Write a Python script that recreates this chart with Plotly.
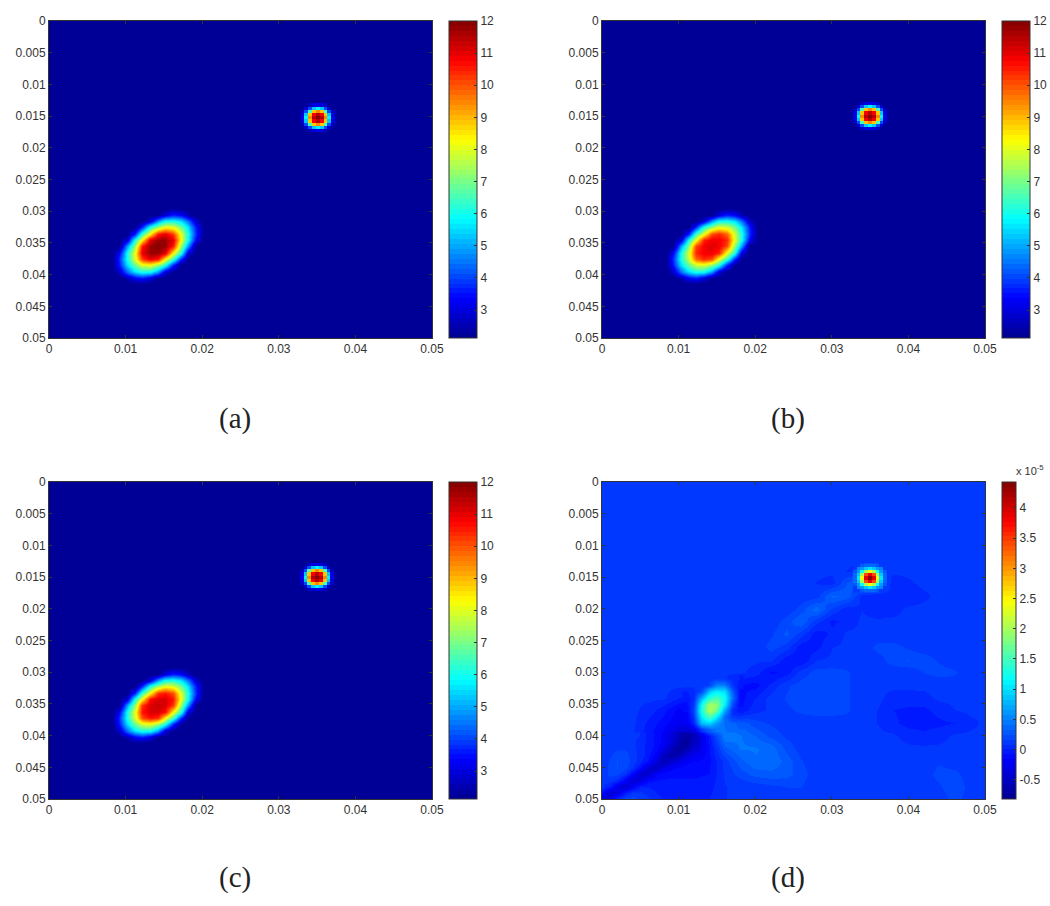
import plotly.graph_objects as go

W, H = 1050, 906
INK = '#333333'

# tick labels
x_ticks = [0, 0.01, 0.02, 0.03, 0.04, 0.05]
x_labels = ['0', '0.01', '0.02', '0.03', '0.04', '0.05']
y_ticks = [0, 0.005, 0.01, 0.015, 0.02, 0.025, 0.03, 0.035, 0.04, 0.045, 0.05]
y_labels = ['0', '0.005', '0.01', '0.015', '0.02', '0.025', '0.03', '0.035', '0.04', '0.045', '0.05']
cbar_ticks = [3, 4, 5, 6, 7, 8, 9, 10, 11, 12]
cbar_ticks_d = [-0.5, 0, 0.5, 1, 1.5, 2, 2.5, 3, 3.5, 4]
cbar_labels_d = ['-0.5', '0', '0.5', '1', '1.5', '2', '2.5', '3', '3.5', '4']
captions = ['(a)', '(b)', '(c)', '(d)']

# colour limits
z_min, z_max = 2.13, 12
z_min_d, z_max_d = -0.82, 4.43

edges = [0, 0.05]
floor_abc = [[2.1, 2.1], [2.1, 2.1]]

# large tilted blob, panels a-c
blob_dy = [0.0295, 0.0305, 0.0315, 0.0325, 0.0335, 0.0345, 0.0355,
           0.0365, 0.0375, 0.0385, 0.0395, 0.0405, 0.0415]
blob_x_a = [0.0082, 0.0092, 0.0102, 0.0112, 0.0122, 0.0132, 0.0142,
            0.0152, 0.0162, 0.0172, 0.0182, 0.0192, 0.0202]
blob_x_b = [0.0083, 0.0093, 0.0103, 0.0113, 0.0123, 0.0133, 0.0143,
            0.0153, 0.0163, 0.0173, 0.0183, 0.0193, 0.0203]
blob_y_c = [0.0292, 0.0302, 0.0312, 0.0322, 0.0332, 0.0342, 0.0352,
            0.0362, 0.0372, 0.0382, 0.0392, 0.0402, 0.0412]
blob_a = [
    [2.1, 2.1, 2.1, 2.1, 2.1, 2.1, 2.1, 2.1, 2.1, 2.1, 2.1, 2.1, 2.1],
    [2.1, 2.1, 2.1, 2.1, 2.1, 2.1, 2.1, 3.0, 3.6, 3.3, 2.5, 2.1, 2.1],
    [2.1, 2.1, 2.1, 2.1, 2.1, 2.9, 4.8, 5.9, 6.0, 5.5, 4.4, 2.7, 2.1],
    [2.1, 2.1, 2.1, 2.1, 3.7, 6.1, 7.3, 8.2, 8.0, 6.9, 5.5, 3.5, 2.1],
    [2.1, 2.1, 2.1, 3.7, 6.4, 8.4, 10.6, 11.0, 10.2, 8.0, 6.0, 3.7, 2.1],
    [2.1, 2.1, 2.9, 6.1, 8.4, 11.1, 11.7, 11.7, 11.0, 8.2, 5.9, 3.2, 2.1],
    [2.1, 2.1, 4.8, 7.3, 10.6, 11.7, 12.0, 11.7, 10.6, 7.3, 4.8, 2.1, 2.1],
    [2.1, 3.2, 5.9, 8.2, 11.0, 11.7, 11.7, 11.1, 8.4, 6.1, 2.9, 2.1, 2.1],
    [2.1, 3.7, 6.0, 8.0, 10.2, 11.0, 10.6, 8.4, 6.4, 3.7, 2.1, 2.1, 2.1],
    [2.1, 3.5, 5.5, 6.9, 8.0, 8.2, 7.3, 6.1, 3.7, 2.1, 2.1, 2.1, 2.1],
    [2.1, 2.7, 4.4, 5.5, 6.0, 5.9, 4.8, 2.9, 2.1, 2.1, 2.1, 2.1, 2.1],
    [2.1, 2.1, 2.5, 3.3, 3.6, 3.0, 2.1, 2.1, 2.1, 2.1, 2.1, 2.1, 2.1],
    [2.1, 2.1, 2.1, 2.1, 2.1, 2.1, 2.1, 2.1, 2.1, 2.1, 2.1, 2.1, 2.1],
]
blob_b = [
    [2.1, 2.1, 2.1, 2.1, 2.1, 2.1, 2.1, 2.1, 2.1, 2.1, 2.1, 2.1, 2.1],
    [2.1, 2.1, 2.1, 2.1, 2.1, 2.1, 2.1, 3.0, 3.6, 3.3, 2.5, 2.1, 2.1],
    [2.1, 2.1, 2.1, 2.1, 2.1, 2.9, 4.8, 5.9, 6.0, 5.5, 4.4, 2.7, 2.1],
    [2.1, 2.1, 2.1, 2.1, 3.7, 6.1, 7.2, 8.0, 7.8, 6.9, 5.5, 3.5, 2.1],
    [2.1, 2.1, 2.1, 3.7, 6.4, 8.1, 10.1, 10.4, 9.8, 7.8, 6.0, 3.7, 2.1],
    [2.1, 2.1, 2.9, 6.1, 8.1, 10.5, 10.9, 10.9, 10.4, 8.0, 5.9, 3.2, 2.1],
    [2.1, 2.1, 4.8, 7.2, 10.1, 10.9, 11.0, 10.9, 10.1, 7.2, 4.8, 2.1, 2.1],
    [2.1, 3.2, 5.9, 8.0, 10.4, 10.9, 10.9, 10.5, 8.1, 6.1, 2.9, 2.1, 2.1],
    [2.1, 3.7, 6.0, 7.8, 9.8, 10.4, 10.1, 8.1, 6.4, 3.7, 2.1, 2.1, 2.1],
    [2.1, 3.5, 5.5, 6.9, 7.8, 8.0, 7.2, 6.1, 3.7, 2.1, 2.1, 2.1, 2.1],
    [2.1, 2.7, 4.4, 5.5, 6.0, 5.9, 4.8, 2.9, 2.1, 2.1, 2.1, 2.1, 2.1],
    [2.1, 2.1, 2.5, 3.3, 3.6, 3.0, 2.1, 2.1, 2.1, 2.1, 2.1, 2.1, 2.1],
    [2.1, 2.1, 2.1, 2.1, 2.1, 2.1, 2.1, 2.1, 2.1, 2.1, 2.1, 2.1, 2.1],
]
blob_c = [
    [2.1, 2.1, 2.1, 2.1, 2.1, 2.1, 2.1, 2.1, 2.1, 2.1, 2.1, 2.1, 2.1],
    [2.1, 2.1, 2.1, 2.1, 2.1, 2.1, 2.1, 3.0, 3.6, 3.3, 2.5, 2.1, 2.1],
    [2.1, 2.1, 2.1, 2.1, 2.1, 2.9, 4.8, 5.9, 6.0, 5.5, 4.4, 2.7, 2.1],
    [2.1, 2.1, 2.1, 2.1, 3.7, 6.1, 7.3, 8.1, 7.9, 6.9, 5.5, 3.5, 2.1],
    [2.1, 2.1, 2.1, 3.7, 6.4, 8.3, 10.3, 10.6, 10.0, 7.9, 6.0, 3.7, 2.1],
    [2.1, 2.1, 2.9, 6.1, 8.3, 10.7, 11.1, 11.1, 10.6, 8.1, 5.9, 3.2, 2.1],
    [2.1, 2.1, 4.8, 7.3, 10.3, 11.1, 11.3, 11.1, 10.3, 7.3, 4.8, 2.1, 2.1],
    [2.1, 3.2, 5.9, 8.1, 10.6, 11.1, 11.1, 10.7, 8.3, 6.1, 2.9, 2.1, 2.1],
    [2.1, 3.7, 6.0, 7.9, 10.0, 10.6, 10.3, 8.3, 6.4, 3.7, 2.1, 2.1, 2.1],
    [2.1, 3.5, 5.5, 6.9, 7.9, 8.1, 7.3, 6.1, 3.7, 2.1, 2.1, 2.1, 2.1],
    [2.1, 2.7, 4.4, 5.5, 6.0, 5.9, 4.8, 2.9, 2.1, 2.1, 2.1, 2.1, 2.1],
    [2.1, 2.1, 2.5, 3.3, 3.6, 3.0, 2.1, 2.1, 2.1, 2.1, 2.1, 2.1, 2.1],
    [2.1, 2.1, 2.1, 2.1, 2.1, 2.1, 2.1, 2.1, 2.1, 2.1, 2.1, 2.1, 2.1],
]

# small round peak, panels a-c
peak_x_a = [0.0326, 0.0331, 0.0336, 0.0341, 0.0346, 0.0351, 0.0356, 0.0361, 0.0366, 0.0371, 0.0376]
peak_y_a = [0.01275, 0.01325, 0.01375, 0.01425, 0.01475, 0.01525, 0.01575, 0.01625, 0.01675, 0.01725, 0.01775]
peak_x_bc = [0.0325, 0.0330, 0.0335, 0.0340, 0.0345, 0.0350, 0.0355, 0.0360, 0.0365, 0.0370, 0.0375]
peak_y_bc = [0.0125, 0.0130, 0.0135, 0.0140, 0.0145, 0.0150, 0.0155, 0.0160, 0.0165, 0.0170, 0.0175]
peak_abc = [
    [2.1, 2.1, 2.1, 2.1, 2.15, 2.2, 2.15, 2.1, 2.1, 2.1, 2.1],
    [2.1, 2.1, 2.2, 2.6, 3.0, 3.2, 3.0, 2.6, 2.2, 2.1, 2.1],
    [2.1, 2.2, 2.8, 4.0, 5.3, 5.8, 5.3, 4.0, 2.8, 2.2, 2.1],
    [2.15, 2.6, 4.0, 6.5, 8.8, 9.5, 8.8, 6.5, 4.0, 2.6, 2.15],
    [2.15, 3.0, 5.3, 8.8, 10.8, 11.5, 10.8, 8.8, 5.3, 3.0, 2.15],
    [2.2, 3.2, 5.8, 9.5, 11.5, 12.0, 11.5, 9.5, 5.8, 3.2, 2.2],
    [2.15, 3.0, 5.3, 8.8, 10.8, 11.5, 10.8, 8.8, 5.3, 3.0, 2.15],
    [2.15, 2.6, 4.0, 6.5, 8.8, 9.5, 8.8, 6.5, 4.0, 2.6, 2.15],
    [2.1, 2.2, 2.8, 4.0, 5.3, 5.8, 5.3, 4.0, 2.8, 2.2, 2.1],
    [2.1, 2.1, 2.2, 2.6, 3.0, 3.2, 3.0, 2.6, 2.2, 2.1, 2.1],
    [2.1, 2.1, 2.1, 2.1, 2.15, 2.2, 2.15, 2.1, 2.1, 2.1, 2.1],
]

# panel d, difference field in units of 1e-5
field_x = [0, 0.002, 0.004, 0.006, 0.008, 0.01, 0.012, 0.014, 0.016, 0.018, 0.02, 0.022, 0.024,
           0.026, 0.028, 0.03, 0.032, 0.034, 0.036, 0.038, 0.04, 0.042, 0.044, 0.046, 0.048, 0.05]
field_y = list(field_x)
field_d = [
    [0.1] * 26,
    [0.1] * 26,
    [0.1] * 26,
    [0.1] * 26,
    [0.1] * 26,
    [0.1] * 26,
    [0.1] * 26,
    [0.1] * 16 + [0.08, 0.05] + [0.1] * 8,
    [0.1] * 14 + [0.08, 0.05, 0.25, 0.42, 0.3, 0.03, 0.07] + [0.1] * 5,
    [0.1] * 14 + [0.12, 0.35, 0.3, 0.05, 0.03, 0.07, 0.03, 0.07] + [0.1] * 4,
    [0.1] * 13 + [0.2, 0.38, 0.15, 0.03, 0.08, 0.02, 0.05] + [0.1] * 6,
    [0.1] * 12 + [0.2, 0.33, 0.12, -0.02, 0.03] + [0.1] * 9,
    [0.1] * 11 + [0.15, 0.27, 0.12, -0.05, 0.02] + [0.1] * 10,
    [0.1] * 11 + [0.2, 0.13, -0.05, -0.03, 0.08, 0.1, 0.1, 0.2, 0.2, 0.15] + [0.1] * 5,
    [0.1] * 12 + [-0.05, -0.08, 0.08, 0.1, 0.1, 0.1, 0.12, 0.22, 0.25, 0.22, 0.15, 0.1, 0.1, 0.1],
    [0.1] * 10 + [0.05, -0.1, -0.05, 0.12, 0.2, 0.2, 0.18, 0.1, 0.1, 0.1, 0.1, 0.17, 0.2, 0.18, 0.1, 0.1],
    [0.1] * 8 + [0.05, -0.08, -0.12, 0.02, 0.15, 0.2, 0.2, 0.2, 0.18, 0.1, 0.1, 0.1, 0.1, 0.1, 0.1, 0.12, 0.1, 0.1],
    [0.1] * 5 + [0.0, -0.05, 0.0, 0.0, -0.12, 0.0, 0.12, 0.17, 0.2, 0.2, 0.2, 0.18, 0.1, 0.1, 0.05, 0.05, 0.06, 0.1, 0.1, 0.1, 0.1],
    [0.1] * 3 + [0.05, -0.05, -0.2, -0.1, 0.0, 0.0, -0.05, 0.05, 0.1, 0.15, 0.18, 0.2, 0.2, 0.18, 0.1, 0.08, 0.0, -0.02, -0.02, 0.03, 0.08, 0.1, 0.1],
    [0.1] * 3 + [-0.02, -0.12, -0.25, -0.15, 0.8, 0.4, 0.3, 0.2, 0.15, 0.12, 0.12, 0.12, 0.12, 0.12, 0.1, 0.08, 0.02, -0.03, -0.03, -0.02, 0.0, 0.06, 0.1],
    [0.1, 0.1, 0.08, -0.05, -0.2, -0.55, -0.55, -0.05, 0.5, 0.42, 0.33, 0.22, 0.15, 0.12, 0.1, 0.1, 0.1, 0.1, 0.1, 0.1, 0.05, 0.02, 0.05, 0.1, 0.1, 0.1],
    [0.1, 0.15, 0.08, -0.05, -0.3, -0.75, -0.45, -0.1, 0.3, 0.42, 0.42, 0.38, 0.22, 0.12] + [0.1] * 12,
    [0.1, 0.25, 0.15, -0.05, -0.5, -0.35, -0.2, -0.1, 0.12, 0.3, 0.4, 0.4, 0.3, 0.17] + [0.1] * 8 + [0.15, 0.1, 0.1, 0.1],
    [0.1, 0.25, -0.25, -0.3, -0.15, -0.12, -0.1, -0.08, 0.1, 0.2, 0.28, 0.3, 0.28, 0.2, 0.12] + [0.1] * 6 + [0.12, 0.2, 0.2, 0.1, 0.1],
    [0.1, -0.25, -0.1, -0.05, -0.05, -0.05, -0.05, -0.03, 0.08, 0.1, 0.12, 0.15, 0.17, 0.17, 0.1] + [0.1] * 7 + [0.15, 0.25, 0.12, 0.1],
    [-0.5, 0.0, 0.2, 0.1, 0.0, -0.02, -0.02, 0.0, 0.08] + [0.1] * 14 + [0.2, 0.12, 0.1],
]

# finer read of the thin dark line in the lower left corner of panel d
corner_x = [0, 0.001, 0.002, 0.003, 0.004, 0.005, 0.006, 0.007, 0.008, 0.009, 0.01, 0.011, 0.012]
corner_y = [0.04, 0.041, 0.042, 0.043, 0.044, 0.045, 0.046, 0.047, 0.048, 0.049, 0.05]
corner_d = [
    [0.1, 0.1, 0.1, 0.1, 0.1, 0.08, -0.03, -0.1, -0.2, -0.35, -0.55, -0.7, -0.55],
    [0.1, 0.1, 0.12, 0.12, 0.1, 0.05, -0.03, -0.1, -0.2, -0.4, -0.65, -0.78, -0.5],
    [0.1, 0.12, 0.15, 0.15, 0.1, 0.05, -0.03, -0.12, -0.3, -0.55, -0.75, -0.6, -0.4],
    [0.1, 0.15, 0.2, 0.2, 0.12, 0.05, -0.03, -0.2, -0.5, -0.7, -0.6, -0.4, -0.25],
    [0.1, 0.18, 0.25, 0.22, 0.12, 0.03, -0.1, -0.35, -0.6, -0.45, -0.3, -0.2, -0.15],
    [0.1, 0.2, 0.25, 0.2, 0.08, -0.1, -0.4, -0.55, -0.3, -0.2, -0.15, -0.12, -0.1],
    [0.1, 0.2, 0.2, 0.1, -0.15, -0.45, -0.45, -0.2, -0.12, -0.1, -0.1, -0.1, -0.1],
    [0.1, 0.12, 0.05, -0.2, -0.45, -0.35, -0.12, -0.08, -0.07, -0.07, -0.07, -0.07, -0.07],
    [0.1, -0.02, -0.3, -0.45, -0.2, 0.0, 0.0, -0.03, -0.05, -0.05, -0.05, -0.05, -0.05],
    [-0.1, -0.4, -0.35, -0.05, 0.12, 0.1, 0.05, 0.0, -0.02, -0.02, -0.02, -0.02, -0.02],
    [-0.5, -0.3, 0.05, 0.2, 0.2, 0.15, 0.1, 0.03, 0.0, -0.02, -0.02, -0.02, -0.02],
]

blob_x_d = [0.011, 0.012, 0.013, 0.014, 0.015, 0.016, 0.017, 0.018]
blob_y_d = [0.031, 0.032, 0.033, 0.034, 0.035, 0.036, 0.037, 0.038, 0.039]
blob_d = [
    [0.1, 0.1, 0.1, 0.1, 0.15, 0.1, 0.05, 0.0],
    [0.1, 0.1, 0.1, 0.2, 0.5, 0.5, 0.1, -0.05],
    [0.0, 0.05, 0.2, 0.9, 1.1, 1.0, 0.3, -0.1],
    [-0.05, 0.05, 0.7, 1.3, 1.5, 1.2, 0.4, -0.1],
    [-0.1, 0.1, 1.2, 2.0, 1.9, 1.1, 0.2, -0.1],
    [-0.15, 0.15, 1.3, 2.1, 1.7, 0.7, 0.05, -0.05],
    [-0.2, 0.1, 1.1, 1.6, 1.1, 0.4, 0.1, 0.1],
    [-0.25, 0.0, 0.8, 0.9, 0.6, 0.4, 0.35, 0.3],
    [-0.4, -0.3, 0.1, 0.3, 0.45, 0.42, 0.37, 0.33],
]

peak_x_d = [0.0330, 0.0335, 0.0340, 0.0345, 0.0350, 0.0355, 0.0360, 0.0365, 0.0370]
peak_y_d = [0.0131, 0.0136, 0.0141, 0.0146, 0.0151, 0.0156, 0.0161, 0.0166, 0.0171]
peak_d = [
    [0.12, 0.15, 0.25, 0.35, 0.4, 0.35, 0.25, 0.15, 0.12],
    [0.15, 0.5, 0.6, 0.9, 1.0, 0.9, 0.6, 0.5, 0.15],
    [0.25, 0.6, 1.2, 2.0, 2.4, 2.0, 1.2, 0.6, 0.25],
    [0.35, 0.9, 2.0, 3.4, 3.9, 3.4, 2.0, 0.9, 0.35],
    [0.4, 1.0, 2.4, 3.9, 4.4, 3.9, 2.4, 1.0, 0.4],
    [0.35, 0.9, 2.0, 3.4, 3.9, 3.4, 2.0, 0.9, 0.35],
    [0.25, 0.6, 1.2, 2.0, 2.4, 2.0, 1.2, 0.6, 0.25],
    [0.15, 0.5, 0.6, 0.9, 1.0, 0.9, 0.6, 0.5, 0.15],
    [0.1, 0.15, 0.25, 0.35, 0.4, 0.35, 0.25, 0.15, 0.1],
]


def jet_steps(n=64):
    # stepped matlab jet, the reference shows the bands
    anchors = [(0, (0, 0, 143)), (1 / 8, (0, 0, 255)), (3 / 8, (0, 255, 255)),
               (5 / 8, (255, 255, 0)), (7 / 8, (255, 0, 0)), (1, (128, 0, 0))]
    scale = []
    for i in range(n):
        t = (i + 0.5) / n
        for (t0, c0), (t1, c1) in zip(anchors, anchors[1:]):
            if t <= t1:
                f = (t - t0) / (t1 - t0)
                rgb = [round(a + (b - a) * f) for a, b in zip(c0, c1)]
                break
        col = f'rgb({rgb[0]},{rgb[1]},{rgb[2]})'
        scale.append([i / n, col])
        scale.append([(i + 1) / n, col])
    return scale


JET = jet_steps()

# (left, top) of each panel in pixels, all plots are 383 x 317
panels = [(49, 21), (602, 21), (49, 482), (602, 482)]
bar_left = [449, 1002, 449, 1002]
bar_width = [28, 28, 28, 14]
caption_y = [418, 418, 877, 877]
PW, PH = 383, 317

fig = go.Figure()


def add_map(n, x, y, z, smooth):
    fig.add_trace(go.Heatmap(x=x, y=y, z=z, zsmooth=smooth, hoverinfo='skip',
                             coloraxis=f'coloraxis{n + 1}',
                             xaxis=f'x{n + 1}', yaxis=f'y{n + 1}'))


add_map(0, edges, edges, floor_abc, False)
add_map(0, blob_x_a, blob_dy, blob_a, 'best')
add_map(0, peak_x_a, peak_y_a, peak_abc, False)

add_map(1, edges, edges, floor_abc, False)
add_map(1, blob_x_b, blob_dy, blob_b, 'best')
add_map(1, peak_x_bc, peak_y_bc, peak_abc, False)

add_map(2, edges, edges, floor_abc, False)
add_map(2, blob_x_a, blob_y_c, blob_c, 'best')
add_map(2, peak_x_bc, peak_y_bc, peak_abc, False)

add_map(3, field_x, field_y, field_d, 'best')
add_map(3, corner_x, corner_y, corner_d, 'best')
add_map(3, blob_x_d, blob_y_d, blob_d, 'best')
add_map(3, peak_x_d, peak_y_d, peak_d, False)

layout = dict(width=W, height=H, margin=dict(l=0, r=0, t=0, b=0, autoexpand=False),
              paper_bgcolor='white', plot_bgcolor='white', showlegend=False,
              font=dict(family='Liberation Sans', size=12, color=INK))

for n, (left, top) in enumerate(panels):
    s = str(n + 1)
    layout['xaxis' + s] = dict(domain=[left / W, (left + PW) / W], range=[0, 0.05],
                               anchor='y' + s, tickvals=x_ticks, ticktext=x_labels,
                               ticks='inside', ticklen=3, tickcolor=INK, showgrid=False, zeroline=False,
                               showline=True, linecolor=INK, linewidth=1, mirror='ticks')
    layout['yaxis' + s] = dict(domain=[1 - (top + PH) / H, 1 - top / H], range=[0.05, 0],
                               anchor='x' + s, tickvals=y_ticks, ticktext=y_labels,
                               ticks='inside', ticklen=3, tickcolor=INK, showgrid=False, zeroline=False,
                               showline=True, linecolor=INK, linewidth=1, mirror='ticks')
    bar = dict(x=bar_left[n] / W, xanchor='left', xpad=0, y=1 - top / H, yanchor='top', ypad=0,
               len=PH / H, lenmode='fraction', thickness=bar_width[n], thicknessmode='pixels',
               outlinecolor=INK, outlinewidth=1, ticks='inside', ticklen=3, tickcolor=INK,
               tickfont=dict(size=12, color=INK))
    if n == 3:
        bar.update(tickvals=cbar_ticks_d, ticktext=cbar_labels_d)
        low, high = z_min_d, z_max_d
    else:
        bar.update(tickvals=cbar_ticks, ticktext=[str(t) for t in cbar_ticks])
        low, high = z_min, z_max
    key = 'coloraxis' if n == 0 else f'coloraxis{n + 1}'
    layout[key] = dict(colorscale=JET, cmin=low, cmax=high, colorbar=bar)

fig.update_layout(**layout)

# captions under the panels
for cap, (left, top), cap_y in zip(captions, panels, caption_y):
    fig.add_annotation(text=cap, x=(left + PW / 2 - 6) / W, y=1 - cap_y / H,
                       xref='paper', yref='paper', showarrow=False, xanchor='center', yanchor='middle',
                       font=dict(family='Liberation Serif', size=29, color='#222222'))

# colorbar multiplier of panel d
fig.add_annotation(text='x 10<sup>-5</sup>', x=1014 / W, y=1 - 479 / H, xref='paper', yref='paper',
                   showarrow=False, xanchor='left', yanchor='bottom', font=dict(size=11, color=INK))

fig.write_html("out.html", config={'displayModeBar': False},
               post_script="document.body.style.margin='0';")
